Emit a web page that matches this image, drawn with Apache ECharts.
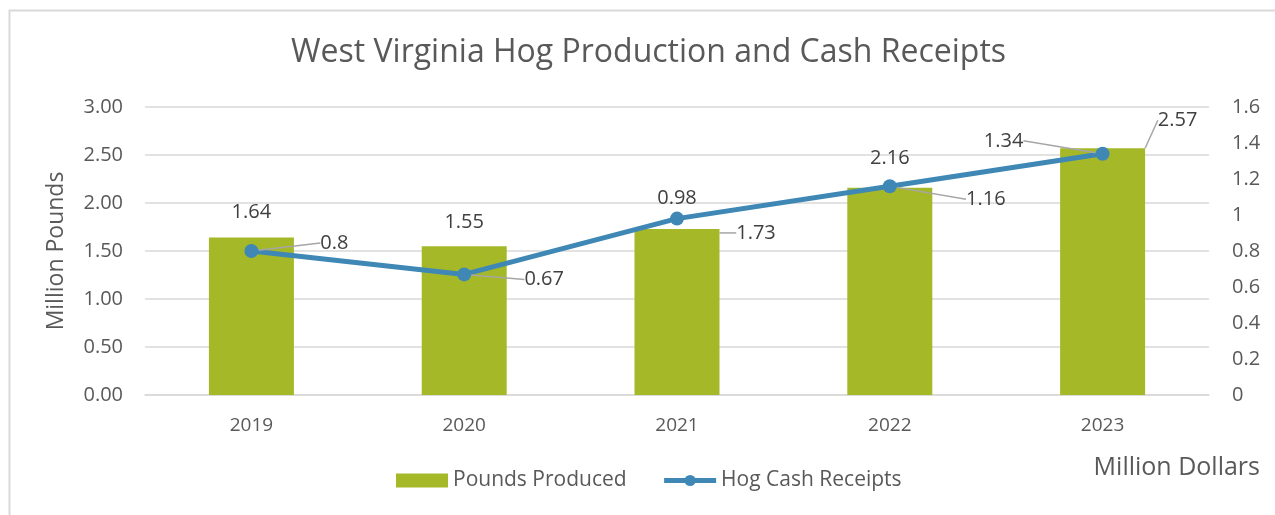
<!DOCTYPE html>
<html>
<head>
<meta charset="utf-8">
<script src="https://cdn.jsdelivr.net/npm/echarts@6/dist/echarts.min.js"></script>
<style>html,body{margin:0;padding:0;background:#fff}#c{width:1275px;height:515px}</style>
</head>
<body>
<div id="c"></div>
<script>
const categories = ['2019', '2020', '2021', '2022', '2023'];
const poundsProduced = [1.64, 1.55, 1.73, 2.16, 2.57];
const hogCashReceipts = [0.8, 0.67, 0.98, 1.16, 1.34];
const leftTicks = [0, 0.5, 1, 1.5, 2, 2.5, 3];
const rightTicks = [0, 0.2, 0.4, 0.6, 0.8, 1, 1.2, 1.4, 1.6];

// label offsets and leader visibility (layout only)
const barLabelShift = [[0, 0], [0, 1], [79, 29], [0, -4], [75, -3]];
const barLeader = [false, false, true, false, true];
const lineLabelShift = [[83, 17], [80, 30], [0, 5], [96, 38], [-99, 12]];
const lineLeader = [true, true, false, true, true];

const FONT = '"Open Sans", "Liberation Sans", sans-serif';
const leaderStyle = { color: '#a6a6a6', width: 1.5 };
const chart = echarts.init(document.getElementById('c'));
chart.setOption({
  animation: false,
  textStyle: { fontFamily: FONT },
  graphic: [{
    type: 'rect', left: 7, top: 8, silent: true,
    shape: { width: 1300, height: 540 },
    style: { fill: 'none', stroke: '#d9d9d9', lineWidth: 2 }
  }],
  title: [{
    text: 'West Virginia Hog Production and Cash Receipts',
    left: 286, top: 32,
    textStyle: { fontFamily: FONT, fontSize: 32, fontWeight: 'normal', color: '#595959' }
  }, {
    text: 'Million Dollars',
    right: 10, top: 450,
    textStyle: { fontFamily: FONT, fontSize: 25, fontWeight: 'normal', color: '#595959' }
  }],
  legend: {
    left: 391, top: 465,
    itemGap: 35, itemWidth: 52, itemHeight: 14, itemTextGap: 6,
    textStyle: { fontFamily: FONT, fontSize: 21, color: '#595959' },
    data: [
      { name: 'Pounds Produced', icon: 'rect' },
      { name: 'Hog Cash Receipts', lineStyle: { width: 5 } }
    ]
  },
  grid: { left: 145, right: 66, top: 107, bottom: 120 },
  xAxis: {
    type: 'category', data: categories,
    axisLine: { lineStyle: { color: '#d9d9d9', width: 1.5 } },
    axisTick: { show: false },
    axisLabel: { color: '#595959', fontSize: 19, margin: 21, fontFamily: FONT }
  },
  yAxis: [{
    type: 'value', min: 0, max: 3, interval: 0.5,
    name: 'Million Pounds', nameLocation: 'middle', nameGap: 77,
    nameTextStyle: { color: '#595959', fontSize: 23, fontFamily: FONT },
    axisLabel: { color: '#595959', fontSize: 20, margin: 22, fontFamily: FONT,
      formatter: v => v.toFixed(2) },
    axisLine: { show: false }, axisTick: { show: false },
    splitLine: { lineStyle: { color: '#d9d9d9', width: 1.5 } }
  }, {
    type: 'value', min: 0, max: 1.6, interval: 0.2,
    axisLabel: { color: '#595959', fontSize: 20, margin: 23, fontFamily: FONT,
      formatter: v => String(Math.round(v * 10) / 10) },
    axisLine: { show: false }, axisTick: { show: false },
    splitLine: { show: false }
  }],
  series: [{
    name: 'Pounds Produced', type: 'bar', yAxisIndex: 0,
    data: poundsProduced.map((v, i) => ({ value: v, labelLine: { show: barLeader[i], lineStyle: leaderStyle } })),
    barWidth: 85,
    itemStyle: { color: '#a5b828' },
    label: { show: true, position: 'top', distance: 15, color: '#404040', fontSize: 20, fontFamily: FONT },
    labelLayout: p => ({ dx: barLabelShift[p.dataIndex][0], dy: barLabelShift[p.dataIndex][1] })
  }, {
    name: 'Hog Cash Receipts', type: 'line', yAxisIndex: 1,
    data: hogCashReceipts.map((v, i) => ({ value: v, labelLine: { show: lineLeader[i], lineStyle: leaderStyle } })),
    symbol: 'circle', symbolSize: 14,
    lineStyle: { color: '#3f88b5', width: 5 },
    itemStyle: { color: '#3f88b5' },
    label: { show: true, position: 'top', distance: 8, color: '#404040', fontSize: 20, fontFamily: FONT },
    labelLayout: p => ({ dx: lineLabelShift[p.dataIndex][0], dy: lineLabelShift[p.dataIndex][1] })
  }]
});
</script>
</body>
</html>
